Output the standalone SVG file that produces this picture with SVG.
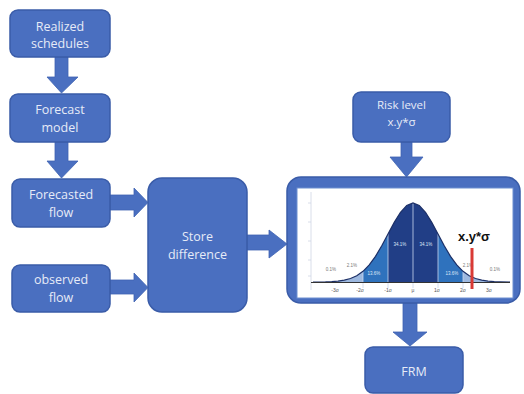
<svg xmlns="http://www.w3.org/2000/svg" width="524" height="394" viewBox="0 0 524 394">
<defs>
<style>
.box{fill:#4a6fc0;stroke:#3a5ca8;stroke-width:1.5}
.lbl{font-family:"Open Sans","Liberation Sans",sans-serif;font-size:12.5px;fill:#e6ebf7;text-anchor:middle}
.arr{fill:#4a6fc0;stroke:#3f63b2;stroke-width:0.8}
.pct{font-family:"Liberation Sans",sans-serif;font-size:4.5px;text-anchor:middle}
.ax{font-family:"Liberation Sans",sans-serif;font-size:5px;fill:#555;text-anchor:middle}
</style>
</defs>
<rect width="524" height="394" fill="#ffffff"/>

<g id="connectors">
<path class="arr" d="M55,57 L68,57 L68,77 L78,77 L61.5,93 L47,77 L55,77 Z"/>
<path class="arr" d="M55,142 L68,142 L68,161 L78,161 L61.5,178 L47,161 L55,161 Z"/>
<path class="arr" d="M110,195 L134,195 L134,188 L148,202.5 L134,217 L134,210 L110,210 Z"/>
<path class="arr" d="M110,280 L134,280 L134,273 L148,287.5 L134,302 L134,294 L110,294 Z"/>
<path class="arr" d="M247,235 L269,235 L269,230 L287,244 L269,258 L269,250 L247,250 Z"/>
<path class="arr" d="M401,142 L412,142 L412,157 L423,157 L406.5,177 L390,157 L401,157 Z"/>
<path class="arr" d="M403,303 L417,303 L417,332 L427,332 L410,346 L393,332 L403,332 Z"/>
</g>

<g id="n1"><rect class="box" x="10" y="10" width="100" height="47" rx="8"/>
<text class="lbl" x="60" y="31">Realized</text><text class="lbl" x="60" y="48">schedules</text></g>

<g id="n2"><rect class="box" x="10" y="94" width="100" height="48" rx="8"/>
<text class="lbl" x="60" y="114">Forecast</text><text class="lbl" x="60" y="132">model</text></g>

<g id="n3"><rect class="box" x="12" y="179" width="98" height="48" rx="8"/>
<text class="lbl" x="61" y="199">Forecasted</text><text class="lbl" x="61" y="217">flow</text></g>

<g id="n4"><rect class="box" x="12" y="265" width="98" height="47" rx="8"/>
<text class="lbl" x="61" y="284">observed</text><text class="lbl" x="61" y="302">flow</text></g>

<g id="n5"><rect class="box" x="148" y="178" width="99" height="134" rx="14"/>
<text class="lbl" x="197.5" y="241">Store</text><text class="lbl" x="197.5" y="259">difference</text></g>

<g id="n7"><rect class="box" x="353" y="92" width="97" height="50" rx="8"/>
<text class="lbl" x="401.5" y="109" style="font-size:11.5px">Risk level</text><text class="lbl" x="401.5" y="126" style="font-size:11.5px">x.y*σ</text></g>

<g id="n8"><rect class="box" x="365" y="347" width="98" height="46" rx="8"/>
<text class="lbl" x="414" y="376">FRM</text></g>

<g id="n6">
<rect class="box" x="287" y="177" width="233" height="126" rx="14"/>
<rect x="297" y="188" width="216" height="110" fill="#ffffff" stroke="#6d8fd0" stroke-width="1"/>
<line x1="311" y1="192" x2="311" y2="290" stroke="#cfd6e4" stroke-width="0.8"/>
<g stroke="#cfd6e4" stroke-width="0.8">
<line x1="308" y1="203" x2="311" y2="203"/><line x1="308" y1="222" x2="311" y2="222"/><line x1="308" y1="241" x2="311" y2="241"/><line x1="308" y1="260" x2="311" y2="260"/><line x1="308" y1="276" x2="311" y2="276"/>
</g>
<path d="M338,282 L338,281.12 L344.25,280.2 L350.5,278.53 L356.75,275.71 L363,271.31 L363,282 Z" fill="#9db8df"/>
<path d="M463,282 L463,271.31 L469.25,275.71 L475.5,278.53 L481.75,280.2 L488,281.12 L488,282 Z" fill="#9db8df"/>
<path d="M363,282 L363,271.31 L369.25,264.91 L375.5,256.35 L381.75,245.83 L388,234.09 L388,282 Z" fill="#2f72bd"/>
<path d="M438,282 L438,234.09 L444.25,245.83 L450.5,256.35 L456.75,264.91 L463,271.31 L463,282 Z" fill="#2f72bd"/>
<path d="M388,282 L388,234.09 L394.25,222.37 L400.5,212.28 L406.75,205.43 L413,203 L419.25,205.43 L425.5,212.28 L431.75,222.37 L438,234.09 L438,282 Z" fill="#213e86"/>
<g stroke="#c9d6ee" stroke-width="0.8">
<line x1="388" y1="234" x2="388" y2="288"/><line x1="413" y1="203" x2="413" y2="288"/><line x1="438" y1="234" x2="438" y2="288"/><line x1="363" y1="271" x2="363" y2="288"/><line x1="463" y1="271" x2="463" y2="288"/>
</g>
<path d="M313,282 L325.5,281.83 L331.75,281.6 L338,281.12 L344.25,280.2 L350.5,278.53 L356.75,275.71 L363,271.31 L369.25,264.91 L375.5,256.35 L381.75,245.83 L388,234.09 L394.25,222.37 L400.5,212.28 L406.75,205.43 L413,203 L419.25,205.43 L425.5,212.28 L431.75,222.37 L438,234.09 L444.25,245.83 L450.5,256.35 L456.75,264.91 L463,271.31 L469.25,275.71 L475.5,278.53 L481.75,280.2 L488,281.12 L494.25,281.6 L500.5,281.83 L510,282" fill="none" stroke="#1c2f66" stroke-width="1.2"/>
<line x1="311" y1="282.5" x2="510" y2="282.5" stroke="#333" stroke-width="1"/>
<text class="pct" x="400" y="246" fill="#dfe7f7">34.1%</text>
<text class="pct" x="426" y="246" fill="#dfe7f7">34.1%</text>
<text class="pct" x="374" y="275" fill="#dfe7f7">13.6%</text>
<text class="pct" x="452" y="275" fill="#dfe7f7">13.6%</text>
<text class="pct" x="352" y="267" fill="#777">2.1%</text>
<text class="pct" x="468" y="267" fill="#777">2.1%</text>
<text class="pct" x="331" y="271" fill="#777">0.1%</text>
<text class="pct" x="495" y="271" fill="#777">0.1%</text>
<text class="ax" x="335" y="292">-3σ</text>
<text class="ax" x="360" y="292">-2σ</text>
<text class="ax" x="388" y="292">-1σ</text>
<text class="ax" x="413" y="292">μ</text>
<text class="ax" x="437" y="292">1σ</text>
<text class="ax" x="463" y="292">2σ</text>
<text class="ax" x="489" y="292">3σ</text>
<line x1="472" y1="248" x2="472" y2="289" stroke="#d93a35" stroke-width="3"/>
<text x="474" y="241" font-family="Liberation Sans, sans-serif" font-size="13" font-weight="bold" fill="#111" text-anchor="middle">x.y*σ</text>
</g>
</svg>
